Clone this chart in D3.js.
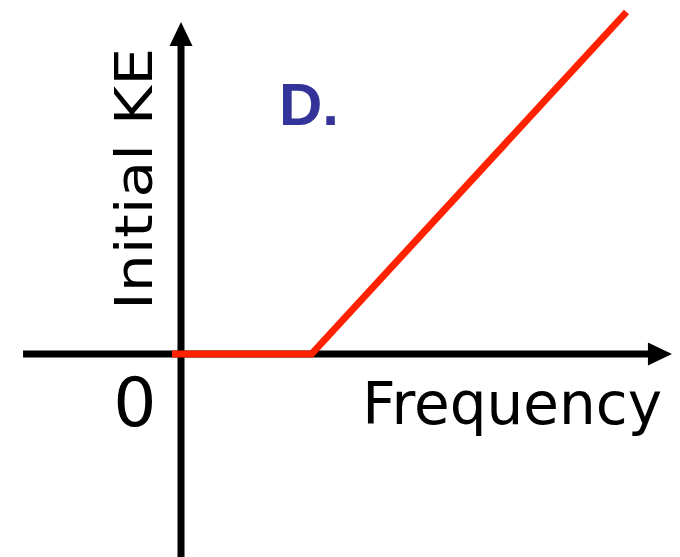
<!DOCTYPE html>
<html>
<head>
<meta charset="utf-8">
<script src="https://cdn.jsdelivr.net/npm/d3@7"></script>
<style>
  body { margin: 0; background: #fff; }
  text { font-family: "Comic Sans MS", "DejaVu Sans", sans-serif; }
</style>
</head>
<body>
<div id="chart"></div>
<script>
// photoelectric effect: KE vs frequency (option D)
let frequency = [-2, 29, 99];
let initialKE = [0, 0, 100];
let xLabel = "Frequency";
let yLabel = "Initial KE";
let originLabel = "0";
let panelLabel = "D.";

let width = 680, height = 557;

let x = d3.scaleLinear().domain([0, 100]).range([181, 631]);
let y = d3.scaleLinear().domain([0, 100]).range([354, 12]);

let svg = d3.select("#chart")
    .append("svg")
    .attr("width", width)
    .attr("height", height);

// axes with arrowheads
let axisColor = "#000";
let arrowLen = 24, arrowHalf = 11.5;

// horizontal axis
let xStart = -35.1, xEnd = 109.1;
svg.append("line")
    .attr("x1", x(xStart)).attr("x2", x(xEnd) - arrowLen + 1)
    .attr("y1", y(0)).attr("y2", y(0))
    .attr("stroke", axisColor).attr("stroke-width", 7);
svg.append("path")
    .attr("d", `M${x(xEnd)},${y(0)} L${x(xEnd) - arrowLen},${y(0) - arrowHalf} L${x(xEnd) - arrowLen},${y(0) + arrowHalf} Z`)
    .attr("fill", axisColor);

// vertical axis
let yStart = -60, yEnd = 97.1;
svg.append("line")
    .attr("x1", x(0)).attr("x2", x(0))
    .attr("y1", y(yStart)).attr("y2", y(yEnd) + arrowLen - 1)
    .attr("stroke", axisColor).attr("stroke-width", 7);
svg.append("path")
    .attr("d", `M${x(0)},${y(yEnd)} L${x(0) - arrowHalf},${y(yEnd) + arrowLen} L${x(0) + arrowHalf},${y(yEnd) + arrowLen} Z`)
    .attr("fill", axisColor);

// red line
let pts = frequency.map((f, i) => [f, initialKE[i]]);
svg.append("path")
    .datum(pts)
    .attr("d", d3.line().x(d => x(d[0])).y(d => y(d[1])))
    .attr("fill", "none")
    .attr("stroke", "#ff2200")
    .attr("stroke-width", 7)
    .attr("stroke-linejoin", "miter");

// labels
svg.append("text")
    .attr("transform", "translate(152,179) rotate(-90)")
    .attr("text-anchor", "middle")
    .attr("textLength", 262)
    .attr("lengthAdjust", "spacingAndGlyphs")
    .style("font-size", "52px")
    .text(yLabel);

svg.append("text")
    .attr("x", 662)
    .attr("y", 424)
    .attr("text-anchor", "end")
    .style("font-size", "58px")
    .text(xLabel);

svg.append("text")
    .attr("x", 135)
    .attr("y", 426)
    .attr("text-anchor", "middle")
    .style("font-size", "68px")
    .text(originLabel);

svg.append("text")
    .attr("x", 279)
    .attr("y", 125)
    .style("font-family", "'Liberation Sans', Arial, sans-serif")
    .style("font-weight", "bold")
    .style("font-size", "60px")
    .style("fill", "#333399")
    .text(panelLabel);
</script>
</body>
</html>
